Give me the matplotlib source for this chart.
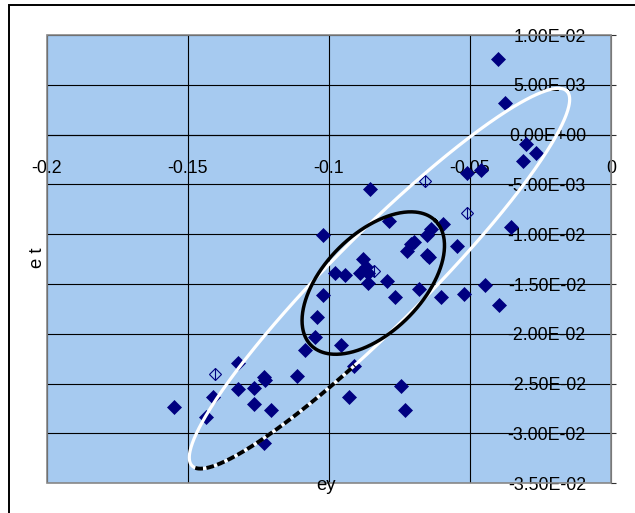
import numpy as np
import matplotlib
matplotlib.use("Agg")
import matplotlib.pyplot as plt
import matplotlib.patches as patches
from matplotlib.ticker import FuncFormatter

plt.rcParams["font.family"] = ["Liberation Sans", "DejaVu Sans"]

# filled points (ey, et)
ey = [-0.0402, -0.0377, -0.0300, -0.0266, -0.0312, -0.0460, -0.0510, -0.0853,
      -0.0789, -0.0595, -0.0640, -0.0653, -0.1020, -0.0697, -0.0709, -0.0545,
      -0.0723, -0.0653, -0.0645, -0.0880, -0.0868, -0.0890, -0.0980, -0.0945,
      -0.0862, -0.0860, -0.0794, -0.0681, -0.0447, -0.0523, -0.0602, -0.0765,
      -0.1020, -0.0396, -0.1041, -0.1049, -0.0956, -0.1085, -0.0913, -0.1321,
      -0.1113, -0.1232, -0.1228, -0.0743, -0.1321, -0.1265, -0.1412, -0.0930,
      -0.1549, -0.1265, -0.1206, -0.0732, -0.1436, -0.1229, -0.0355]
et = [0.0076, 0.0032, -0.00095, -0.0018, -0.00266, -0.00356, -0.0039, -0.0055,
      -0.0087, -0.0090, -0.0095, -0.0101, -0.0101, -0.0108, -0.0110, -0.0112,
      -0.0117, -0.0121, -0.0123, -0.0125, -0.0133, -0.0139, -0.0139, -0.0141,
      -0.0139, -0.0149, -0.0147, -0.0155, -0.0151, -0.0160, -0.0163, -0.0163,
      -0.0161, -0.0171, -0.0183, -0.0203, -0.0211, -0.0216, -0.0232, -0.0229,
      -0.0242, -0.0243, -0.0246, -0.0252, -0.0255, -0.0254, -0.0263, -0.0263,
      -0.0273, -0.0270, -0.0276, -0.0276, -0.0283, -0.0310, -0.0093]

# open points
ey_open = [-0.1405, -0.0841, -0.0509, -0.0660]
et_open = [-0.0240, -0.0137, -0.0079, -0.0047]

x_ticks = [-0.2, -0.15, -0.1, -0.05, 0]
y_ticks = [0.01, 0.005, 0, -0.005, -0.01, -0.015, -0.02, -0.025, -0.03, -0.035]

# hand drawn ellipses: centre in data units, semi axes in pixels, tilt in degrees
white_ell = dict(center=(-0.0821, -0.01444), a=265, b=46, angle=45)
black_ell = dict(center=(-0.0843, -0.0149), a=88, b=49, angle=45)
dash_range = (np.pi + 0.08, 4.41)

navy = "#000080"
fs = 12.8

fig = plt.figure(figsize=(6.35, 5.13), dpi=100)
ax = fig.add_axes([47 / 635, 1 - 483.3 / 513, 564 / 635, 448.3 / 513])
ax.set_facecolor("#A6CAF0")
ax.set_xlim(-0.2, 0)
ax.set_ylim(-0.035, 0.01)

ax.set_xticks(x_ticks)
ax.set_yticks(y_ticks)
ax.xaxis.set_major_formatter(FuncFormatter(lambda v, p: f"{v:g}"))
ax.yaxis.set_major_formatter(FuncFormatter(lambda v, p: f"{v:.2E}"))
ax.grid(True, color="black", lw=0.8, zorder=1)
ax.set_axisbelow(True)

for s in ["top", "right"]:
    ax.spines[s].set_visible(False)
ax.spines["left"].set_position(("data", 0))
ax.spines["left"].set_color("#303030")
ax.spines["bottom"].set_position(("data", 0))
ax.spines["bottom"].set_color("black")
ax.spines["bottom"].set_linewidth(0.8)
ax.tick_params(axis="y", direction="in", length=3.5, pad=18, labelsize=fs,
               color="#303030")
ax.tick_params(axis="x", length=0, pad=18, labelsize=fs)
for lab in ax.get_yticklabels():
    lab.set_zorder(5)

# plot area border
ax.add_patch(patches.Rectangle((0, 0), 1, 1, transform=ax.transAxes, fill=False,
                               edgecolor="#888888", lw=1.2, clip_on=False, zorder=4))

ax.plot(ey, et, "D", color=navy, ms=6.8, mew=0.5, zorder=3, clip_on=False)
ax.plot(ey_open, et_open, "D", mfc="none", mec=navy, ms=6.2, mew=0.8, zorder=3)
ax.plot(ey_open, et_open, "|", color=navy, ms=8.5, mew=0.8, zorder=3)


def ellipse_xy(e, t):
    cx, cy = ax.transData.transform(e["center"])
    th = np.deg2rad(e["angle"])
    px = cx + e["a"] * np.cos(t) * np.cos(th) - e["b"] * np.sin(t) * np.sin(th)
    py = cy + e["a"] * np.cos(t) * np.sin(th) + e["b"] * np.sin(t) * np.cos(th)
    pts = ax.transData.inverted().transform(np.column_stack([px, py]))
    return pts[:, 0], pts[:, 1]


t = np.linspace(0, 2 * np.pi, 400)
ax.plot(*ellipse_xy(white_ell, t), color="white", lw=2.3, zorder=3.5)
ax.plot(*ellipse_xy(black_ell, t), color="black", lw=2.5, zorder=3.5)
td = np.linspace(dash_range[0], dash_range[1], 200)
ax.plot(*ellipse_xy(white_ell, td), color="black", lw=2.8, zorder=3.6,
        dashes=(2, 0.9), solid_capstyle="butt")

fig.text(326 / 635, 1 - 485 / 513, "ey", ha="center", va="center", fontsize=fs + 0.5)
fig.text(37 / 635, 1 - 258 / 513, "e t", ha="center", va="center", fontsize=fs + 0.5,
         rotation=90)

# chart area frame
fig.patches.append(patches.Rectangle((8.5 / 635, -0.2), 1.2, 1.2 - 5 / 513,
                                     transform=fig.transFigure, fill=False,
                                     edgecolor="black", lw=1.4))

fig.savefig("out.png", dpi=100)
